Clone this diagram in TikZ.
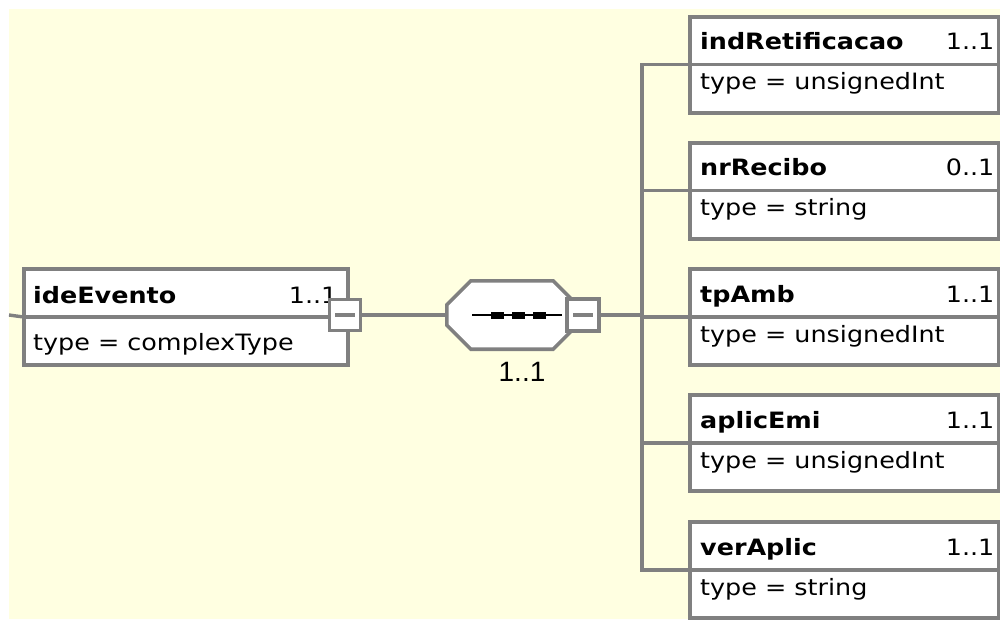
\documentclass[tikz,border=0pt]{standalone}
\usepackage{fontspec}
\setmainfont[FakeStretch=1.13]{DejaVu Sans}
\newfontfamily\seqfont{Liberation Sans}
\usetikzlibrary{calc}
\definecolor{cream}{HTML}{FFFFE1}
\definecolor{linegray}{HTML}{808080}
\begin{document}
\begin{tikzpicture}[x=1pt,y=-1pt,
  conn/.style={draw=linegray, line width=3.4pt},
  elembox/.style={draw=linegray, line width=3.6pt, fill=white, minimum width=309pt, minimum height=96pt, inner sep=0pt, anchor=north west},
  exbox/.style={draw=linegray, line width=3.6pt, fill=white, minimum size=31pt, inner sep=0pt},
  minusbar/.style={draw=linegray, line width=3.5pt},
  ename/.style={font=\fontsize{22.5}{22.5}\selectfont\bfseries, anchor=base west, inner sep=0pt},
  etype/.style={font=\fontsize{22.5}{22.5}\selectfont, anchor=base west, inner sep=0pt},
  emult/.style={font=\fontsize{22.5}{22.5}\selectfont, anchor=base east, inner sep=0pt}]
\useasboundingbox (0,0) rectangle (1000,620);
\fill[white] (0,0) rectangle (1000,620);
\fill[cream] (9,9) rectangle (1000,619);

% parent element
\coordinate (in) at (9,315);
\node[elembox, minimum width=324pt] (ide) at (22,267) {};
\draw[conn] (in) -- (ide.west);
\draw[conn] (ide.west) -- (ide.east);
\node[ename] (iden) at ($(ide.north west)+(11,36)$) {ideEvento};
\node[emult] (idem) at ($(ide.north east)+(-12,36)$) {1..1};
\node[etype] (idet) at ($(ide.north west)+(11,83)$) {type = complexType};
\node[exbox] (ideX) at (345,315) {};
\draw[minusbar] ($(ideX.center)+(-10,0)$) -- ($(ideX.center)+(10,0)$);

% sequence compositor
\node[minimum width=130pt, minimum height=68pt, inner sep=0pt] (seq) at (512,315) {};
\draw[conn] (ideX.east) -- (seq.west);
\draw[conn, line width=3.6pt, fill=white, line join=miter]
  ($(seq.north west)+(24,0)$) -- ($(seq.north east)+(-24,0)$) -- ($(seq.north east)+(0,24)$)
  -- ($(seq.south east)+(0,-24)$) -- ($(seq.south east)+(-24,0)$) -- ($(seq.south west)+(24,0)$)
  -- ($(seq.south west)+(0,-24)$) -- ($(seq.north west)+(0,24)$) -- cycle;
\draw[black, line width=1.8pt] ($(seq.center)+(-40,0)$) -- ($(seq.center)+(50,0)$);
\foreach \dx in {-15,6,27}{
  \fill[black] ($(seq.center)+(\dx,0)+(-6.5,-3.5)$) rectangle ($(seq.center)+(\dx,0)+(6.5,3.5)$);
}
\node[exbox, minimum size=32pt] (seqX) at (583,315) {};
\draw[minusbar] ($(seqX.center)+(-10,0)$) -- ($(seqX.center)+(10,0)$);
\node[font=\seqfont\fontsize{28}{28}\selectfont, anchor=base, inner sep=0pt] (seqm) at (522,381) {1..1};

% bus
\coordinate (bus) at (642,315);
\draw[conn] (seqX.east) -- (bus);

% children
\foreach \id/\nm/\mu/\ty/\tp in {c1/indRetificacao/1..1/unsignedInt/15, c2/nrRecibo/0..1/string/141, c3/tpAmb/1..1/unsignedInt/267, c4/aplicEmi/1..1/unsignedInt/393, c5/verAplic/1..1/string/520}{
  \node[elembox] (\id) at (688,\tp) {};
  \draw[conn, line join=miter] (bus) |- (\id.west);
  \node[elembox] at (688,\tp) {};
  \draw[conn] (\id.west) -- (\id.east);
  \node[ename] (\id-n) at ($(\id.north west)+(12,35)$) {\nm};
  \node[emult] (\id-m) at ($(\id.north east)+(-6,35)$) {\mu};
  \node[etype] (\id-t) at ($(\id.north west)+(12,75)$) {type = \ty};
}
\end{tikzpicture}
\end{document}
